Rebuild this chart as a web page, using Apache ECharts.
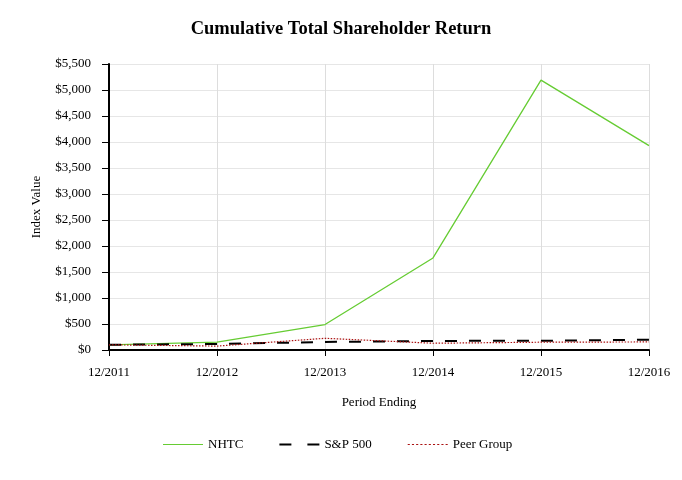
<!DOCTYPE html>
<html><head><meta charset="utf-8">
<script src="https://cdn.jsdelivr.net/npm/echarts@6/dist/echarts.min.js"></script>
<style>html,body{margin:0;padding:0;background:#fff}#c{width:682px;height:480px}</style>
</head><body><div id="c"></div>
<script>
const categories = ['12/2011','12/2012','12/2013','12/2014','12/2015','12/2016'];
const nhtc = [100, 150, 490, 1770, 5190, 3930];
const sp500 = [100, 116, 154, 175, 177, 198];
const peer = [100, 75, 225, 130, 150, 155];
const font = 'Liberation Serif';
const chart = echarts.init(document.getElementById('c'));
chart.setOption({
  animation: false,
  textStyle: {fontFamily: font, color: '#000'},
  title: {text: 'Cumulative Total Shareholder Return', left: 'center', top: 15,
    textStyle: {fontFamily: font, fontSize: 18.5, fontWeight: 'bold', color: '#000'}},
  grid: {left: 109, right: 33, top: 64, bottom: 130, containLabel: false, outerBoundsMode: 'none'},
  legend: {top: 433, left: 158, itemWidth: 40, itemHeight: 10, itemGap: 36,
    textStyle: {fontFamily: font, fontSize: 13, color: '#000'},
    data: [
      {name: 'NHTC', icon: 'path://M0,4.5L40,4.5L40,5.5L0,5.5Z'},
      {name: 'S&P 500', icon: 'path://M0,4L12,4L12,6L0,6ZM28,4L40,4L40,6L28,6Z'},
      {name: 'Peer Group', icon: 'path://M0,4.5L2,4.5L2,5.5L0,5.5ZM4,4.5L6,4.5L6,5.5L4,5.5ZM8,4.5L10,4.5L10,5.5L8,5.5ZM12,4.5L14,4.5L14,5.5L12,5.5ZM16,4.5L18,4.5L18,5.5L16,5.5ZM20,4.5L22,4.5L22,5.5L20,5.5ZM24,4.5L26,4.5L26,5.5L24,5.5ZM28,4.5L30,4.5L30,5.5L28,5.5ZM32,4.5L34,4.5L34,5.5L32,5.5ZM36,4.5L38,4.5L38,5.5L36,5.5Z'}
    ]},
  xAxis: {type: 'category', data: categories, boundaryGap: false,
    name: 'Period Ending', nameLocation: 'middle', nameGap: 46,
    nameTextStyle: {fontFamily: font, fontSize: 13, color: '#000'},
    axisLine: {lineStyle: {color: '#000', width: 2}},
    axisTick: {show: true, inside: false, length: 6, lineStyle: {color: '#000'}},
    axisLabel: {fontFamily: font, fontSize: 13, color: '#000', margin: 16, hideOverlap: false},
    splitLine: {show: true, lineStyle: {color: '#ddd'}}},
  yAxis: {type: 'value', min: 0, max: 5500, interval: 500,
    name: 'Index Value', nameLocation: 'middle', nameGap: 66, nameRotate: 90,
    nameTextStyle: {fontFamily: font, fontSize: 13, color: '#000'},
    axisLine: {show: true, lineStyle: {color: '#000', width: 2}},
    axisTick: {show: true, length: 7, lineStyle: {color: '#000'}},
    axisLabel: {fontFamily: font, fontSize: 13, color: '#000', margin: 18,
      formatter: v => '$' + v.toLocaleString('en-US')},
    splitLine: {show: true, lineStyle: {color: '#e6e6e6'}}},
  series: [
    {name: 'NHTC', type: 'line', data: nhtc, symbol: 'none',
      lineStyle: {color: '#66cc33', width: 1.3}, itemStyle: {color: '#66cc33'}},
    {name: 'S&P 500', type: 'line', data: sp500, symbol: 'none',
      lineStyle: {color: '#000', width: 2, type: [12, 12]}, itemStyle: {color: '#000'}},
    {name: 'Peer Group', type: 'line', data: peer, symbol: 'none',
      lineStyle: {color: '#aa1111', width: 1.2, type: [1.5, 1.5]}, itemStyle: {color: '#aa1111'}}
  ]
});
</script></body></html>
